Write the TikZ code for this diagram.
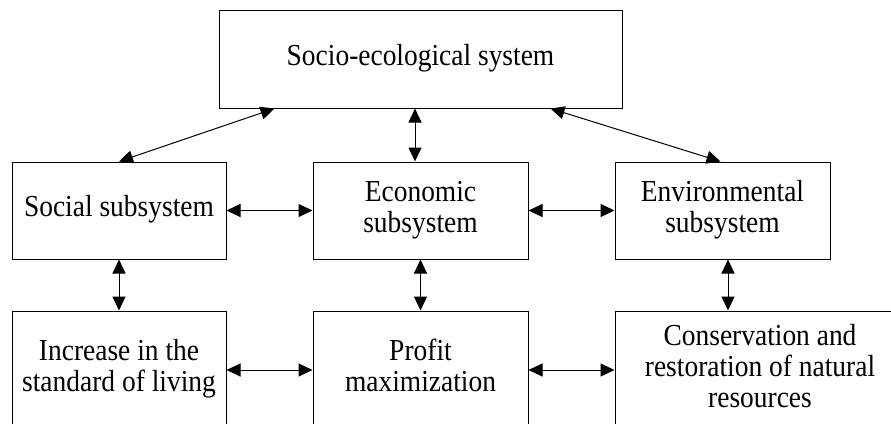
\documentclass[tikz,border=0pt]{standalone}
\usepackage{fontspec}
\setmainfont{Liberation Serif}
\usetikzlibrary{arrows.meta}
\newcommand{\txt}[1]{\scalebox{0.9}[1]{\begin{tabular}{@{}c@{}}#1\end{tabular}}}
\begin{document}
\begin{tikzpicture}[x=1pt,y=-1pt,
  box/.style={draw,line width=1pt,inner sep=0pt,align=center,
    font=\fontsize{30.5}{31}\selectfont},
  arr/.style={{Triangle[length=14pt,width=13pt]}-{Triangle[length=14pt,width=13pt]},line width=1pt}]
\useasboundingbox (0,0) rectangle (891,423);
\clip (0,0) rectangle (891,423);
% top
\node[box,minimum width=403pt,minimum height=98pt] (top) at (420.5,59) {\txt{Socio-ecological system}};
% middle row
\node[box,minimum width=214pt,minimum height=97pt] (soc) at (119,210.5) {\txt{Social subsystem}};
\node[box,minimum width=215pt,minimum height=97pt] (eco) at (420.5,210.5) {\txt{Economic\\subsystem}};
\node[box,minimum width=215pt,minimum height=97pt] (env) at (722.5,210.5) {\txt{Environmental\\subsystem}};
% bottom row
\node[box,minimum width=214pt,minimum height=118pt] (inc) at (119,370) {\txt{Increase in the\\standard of living}};
\node[box,minimum width=215pt,minimum height=118pt] (pro) at (420.5,370) {\txt{Profit\\maximization}};
\node[box,minimum width=290pt,minimum height=118pt] (con) at (760,370) {\raisebox{4pt}{\txt{Conservation and\\restoration of natural\\resources}}};
% connectors
\draw[arr] ([xshift=56pt]top.south west) -- (soc.north);
\draw[arr] ([xshift=-72pt]top.south east) -- ([xshift=-2pt]env.north);
\draw[arr] ([xshift=-5.5pt]top.south) -- ([xshift=-5.5pt]eco.north);
\draw[arr] (soc.east) -- (eco.west);
\draw[arr] (eco.east) -- (env.west);
\draw[arr] (soc.south) -- (inc.north);
\draw[arr] (eco.south) -- (pro.north);
\draw[arr] ([xshift=5.5pt]env.south) -- ([xshift=5.5pt]env.south |- con.north);
\draw[arr] (inc.east) -- (pro.west);
\draw[arr] (pro.east) -- (con.west);
\end{tikzpicture}
\end{document}
